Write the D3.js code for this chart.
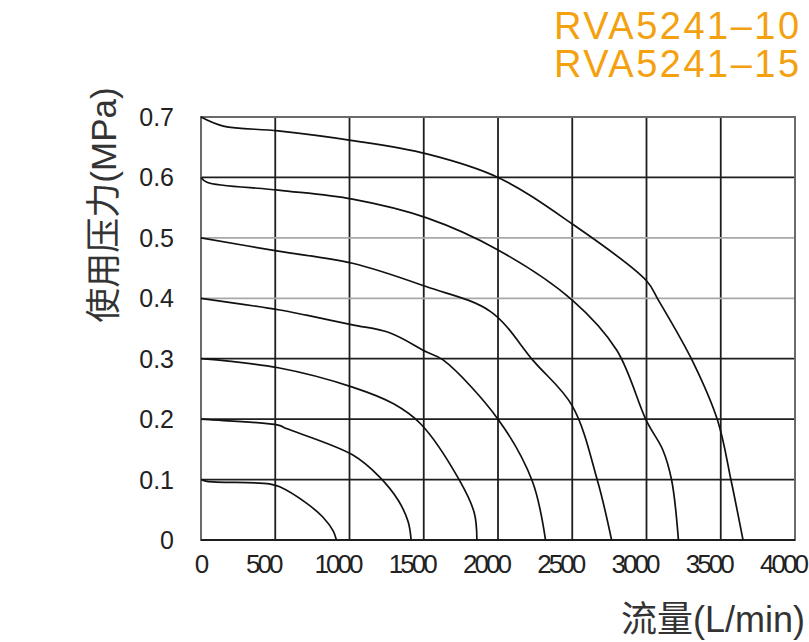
<!DOCTYPE html>
<html>
<head>
<meta charset="utf-8">
<script src="https://cdn.jsdelivr.net/npm/d3@7"></script>
<style>
  body { margin: 0; background: #fff; }
  svg text { font-family: "Liberation Sans", Arial, sans-serif; }
</style>
</head>
<body>
<div class="chart"></div>
<script>
// series: [flow L/min, pressure MPa]
const curve01 = [[0, 0.1], [40, 0.097], [460, 0.093], [530, 0.088], [710, 0.061], [820, 0.038], [890, 0.015], [912, 0]];
const curve02 = [[0, 0.2], [60, 0.199], [520, 0.19], [580, 0.184], [1020, 0.141], [1200, 0.105], [1330, 0.065], [1395, 0.03], [1415, 0]];
const curve03 = [[0, 0.3], [520, 0.285], [1020, 0.253], [1300, 0.225], [1480, 0.192], [1740, 0.099], [1840, 0.045], [1858, 0]];
const curve04 = [[0, 0.4], [520, 0.381], [710, 0.372], [1020, 0.356], [1270, 0.343], [1520, 0.311], [1630, 0.298], [2000, 0.2], [2230, 0.098], [2320, 0]];
const curve05 = [[0, 0.5], [520, 0.478], [1020, 0.458], [1520, 0.419], [1950, 0.378], [2240, 0.296], [2500, 0.222], [2670, 0.098], [2765, 0]];
const curve06 = [[0, 0.6], [40, 0.592], [520, 0.579], [1020, 0.564], [1520, 0.533], [2000, 0.48], [2500, 0.397], [2800, 0.314], [3000, 0.197], [3110, 0.149], [3170, 0.098], [3215, 0]];
const curve07 = [[0, 0.7], [150, 0.685], [520, 0.677], [1020, 0.661], [1520, 0.639], [2000, 0.6], [2500, 0.523], [3000, 0.429], [3080, 0.397], [3310, 0.296], [3480, 0.197], [3570, 0.098], [3650, 0]];
const curves = [curve01, curve02, curve03, curve04, curve05, curve06, curve07];

const xTicks = [0, 500, 1000, 1500, 2000, 2500, 3000, 3500, 4000];
const yTicks = [0, 0.1, 0.2, 0.3, 0.4, 0.5, 0.6, 0.7];
const greyLines = [0.4, 0.5];
const titles = ["RVA5241–10", "RVA5241–15"];

const width = 809, height = 642;

let svg = d3.select(".chart")
    .append("svg")
    .attr("width", width)
    .attr("height", height);

let xScale = d3.scaleLinear().domain([0, 4000]).range([201, 795]);
let yScale = d3.scaleLinear().domain([0, 0.7]).range([540, 117]);

// grid
svg.append("g")
    .selectAll("line")
    .data(xTicks.slice(1, -1))
    .enter()
    .append("line")
    .attr("x1", d => xScale(d)).attr("x2", d => xScale(d))
    .attr("y1", yScale(0.7)).attr("y2", yScale(0))
    .attr("stroke", "#1e1e1e")
    .attr("stroke-width", 1.8);

svg.append("g")
    .selectAll("line")
    .data(yTicks.slice(1, -1))
    .enter()
    .append("line")
    .attr("x1", xScale(0)).attr("x2", xScale(4000))
    .attr("y1", d => yScale(d)).attr("y2", d => yScale(d))
    .attr("stroke", d => greyLines.includes(d) ? "#a8a8a8" : "#1e1e1e")
    .attr("stroke-width", 1.8);

// frame
svg.append("rect")
    .attr("x", xScale(0)).attr("y", yScale(0.7))
    .attr("width", xScale(4000) - xScale(0))
    .attr("height", yScale(0) - yScale(0.7))
    .attr("fill", "none")
    .attr("stroke", "#6a6a6a")
    .attr("stroke-width", 2);

svg.append("line")
    .attr("x1", xScale(0)).attr("x2", xScale(4000))
    .attr("y1", yScale(0)).attr("y2", yScale(0))
    .attr("stroke", "#1e1e1e")
    .attr("stroke-width", 2);

// curves
let line = d3.line()
    .x(d => xScale(d[0]))
    .y(d => yScale(d[1]))
    .curve(d3.curveCatmullRom.alpha(0.5));

svg.append("g")
    .selectAll("path")
    .data(curves)
    .enter()
    .append("path")
    .attr("d", line)
    .attr("fill", "none")
    .attr("stroke", "#111")
    .attr("stroke-width", 1.7);

// tick labels
svg.append("g")
    .selectAll("text")
    .data(yTicks)
    .enter()
    .append("text")
    .attr("x", 174)
    .attr("y", d => yScale(d) + 9)
    .attr("text-anchor", "end")
    .attr("font-size", 25)
    .attr("fill", "#222")
    .text(d => d === 0 ? "0" : d3.format(".1f")(d));

svg.append("g")
    .selectAll("text")
    .data(xTicks)
    .enter()
    .append("text")
    .attr("x", d => xScale(d) + (d === 0 ? 1 : -12))
    .attr("y", 573)
    .attr("text-anchor", "middle")
    .attr("font-size", 26)
    .attr("letter-spacing", d => d === 0 ? 0 : -3)
    .attr("fill", "#222")
    .text(d => d);

// axis titles
svg.append("text")
    .attr("x", 805)
    .attr("y", 632)
    .attr("text-anchor", "end")
    .attr("font-size", 36)
    .attr("fill", "#333")
    .style("font-family", "'Liberation Sans', 'Noto Sans CJK SC', sans-serif")
    .text("流量(L/min)");

svg.append("text")
    .attr("transform", "translate(116,205) rotate(-90)")
    .attr("text-anchor", "middle")
    .attr("font-size", 35)
    .attr("fill", "#333")
    .style("font-family", "'Liberation Sans', 'Noto Sans CJK SC', sans-serif")
    .text("使用压力(MPa)");

// model names
svg.append("g")
    .selectAll("text")
    .data(titles)
    .enter()
    .append("text")
    .attr("x", 554)
    .attr("y", (d, i) => 39 + i * 38)
    .attr("font-size", 38)
    .attr("letter-spacing", 2.5)
    .attr("fill", "#f4a10f")
    .text(d => d);
</script>
</body>
</html>
